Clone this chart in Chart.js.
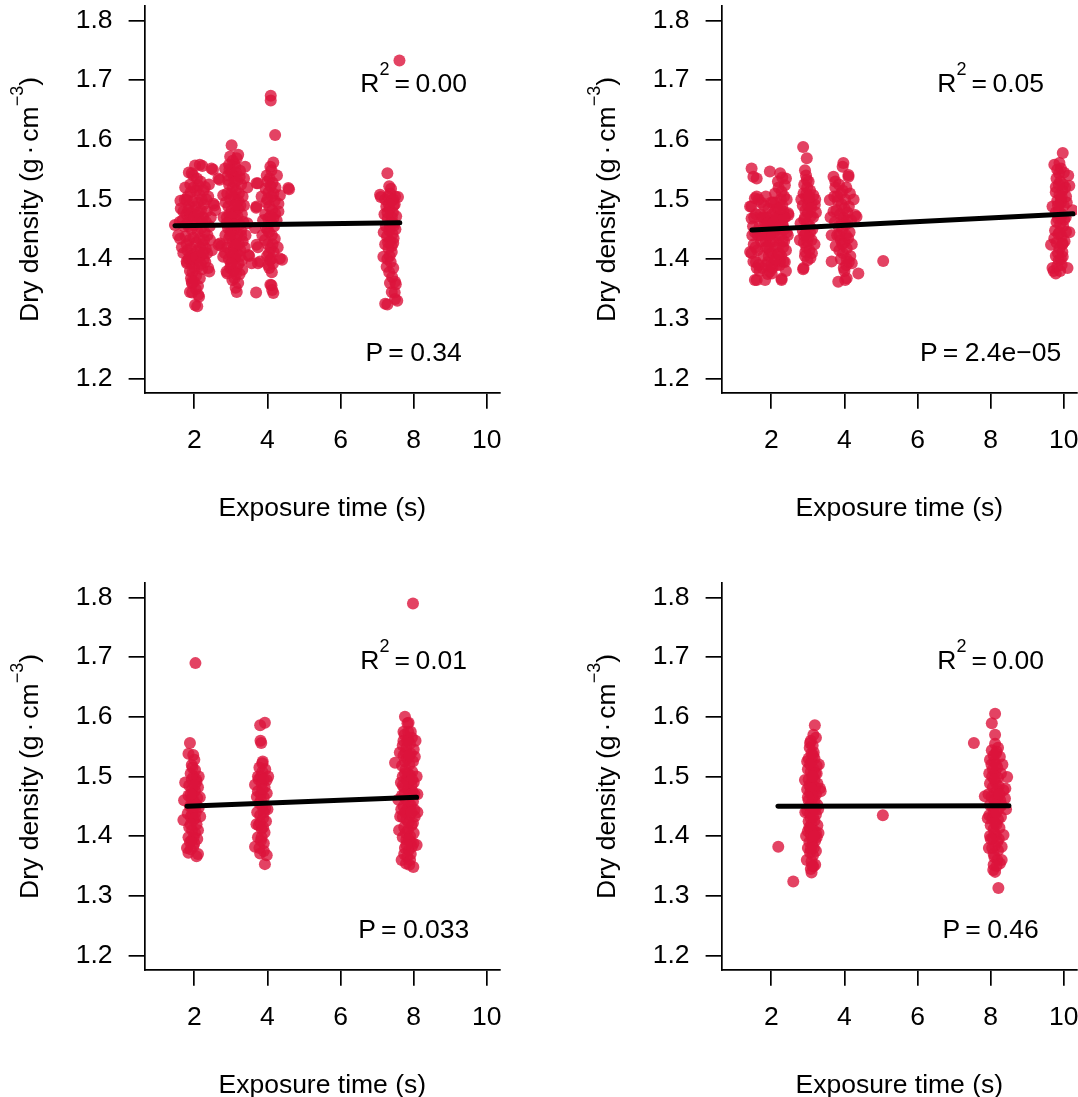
<!DOCTYPE html>
<html>
<head>
<meta charset="utf-8">
<title>Dry density vs exposure time</title>
<script src="https://cdn.jsdelivr.net/npm/chart.js@4.4.1/dist/chart.umd.min.js"></script>
<style>
  html, body { margin: 0; padding: 0; background: #fff; overflow: hidden; width: 1078px; height: 1097px; }
  .cell { position: absolute; width: 577px; height: 577px; }
  .cell canvas { display: block; }
</style>
</head>
<body>
<div class="cell" style="left:0;top:0"><canvas id="cTL" width="577" height="577"></canvas></div>
<div class="cell" style="left:577px;top:0"><canvas id="cTR" width="577" height="577"></canvas></div>
<div class="cell" style="left:0;top:577px"><canvas id="cBL" width="577" height="577"></canvas></div>
<div class="cell" style="left:577px;top:577px"><canvas id="cBR" width="577" height="577"></canvas></div>
<script>
// ---- axis ticks and titles ----
const xTicks = [2, 4, 6, 8, 10];
const yTicks = [1.2, 1.3, 1.4, 1.5, 1.6, 1.7, 1.8];
const xTitle = 'Exposure time (s)';

// ---- statistics printed in each panel ----
const r2Labels = ['0.00', '0.05', '0.01', '0.00'];
const pLabels = ['0.34', '2.4e\u221205', '0.033', '0.46'];

// ---- fitted regression lines: [x, y] at both ends ----
const fitTL = [[1.47, 1.456], [7.62, 1.461]];
const fitTR = [[1.47, 1.4486], [10.25, 1.476]];
const fitBL = [[1.80, 1.450], [8.08, 1.465]];
const fitBR = [[2.18, 1.450], [8.50, 1.451]];

// ---- measured dry density (g/cm3) against exposure time (s) ----
const densityTL = [
  [1.47,1.457],[1.56,1.440],[1.61,1.434],[1.62,1.498],[1.70,1.480],[1.79,1.499],[1.85,1.545],[1.93,1.544],[2.02,1.557],[2.15,1.558],
  [2.22,1.556],[2.47,1.552],[2.51,1.550],[2.66,1.535],[2.69,1.533],[2.11,1.524],[2.29,1.521],[2.52,1.493],[2.55,1.490],[2.57,1.482],
  [2.43,1.432],[2.74,1.422],[2.66,1.424],[2.38,1.385],[2.41,1.379],[1.80,1.393],[1.79,1.396],[1.93,1.362],[1.94,1.359],[1.88,1.345],
  [1.94,1.344],[2.11,1.340],[2.13,1.337],[2.08,1.321],[2.02,1.323],
  [1.82,1.505],[1.90,1.512],[1.98,1.520],[2.05,1.515],[2.14,1.508],[2.20,1.500],[2.26,1.492],[1.86,1.490],[1.95,1.497],[2.03,1.488],
  [2.10,1.495],[2.18,1.482],[1.78,1.475],[1.88,1.472],[1.96,1.468],[2.06,1.474],[2.15,1.465],[2.24,1.470],[2.32,1.462],[1.84,1.455],
  [1.92,1.450],[2.00,1.457],[2.09,1.446],[2.19,1.452],[2.28,1.445],[1.76,1.438],[1.86,1.432],[1.97,1.436],[2.05,1.428],[2.14,1.434],
  [2.23,1.425],[2.31,1.418],[1.81,1.415],[1.90,1.418],[1.99,1.410],[2.08,1.414],[2.17,1.405],[2.26,1.400],[1.84,1.400],[1.93,1.392],
  [2.02,1.398],[2.12,1.388],[2.21,1.383],[1.95,1.378],[2.05,1.372],[2.15,1.368],[2.00,1.385],[1.88,1.380],[2.10,1.355],[2.04,1.350],
  [2.30,1.395],[2.35,1.410],[2.36,1.440],[2.34,1.480],[2.38,1.505],[1.72,1.455],[1.66,1.420],[1.70,1.410],[1.68,1.465],[1.60,1.462],
  [1.75,1.520],[2.45,1.470],[2.42,1.455],[2.48,1.415],[2.40,1.525],
  [1.80,1.460],[1.89,1.525],[1.97,1.540],[2.07,1.535],[2.17,1.530],[2.25,1.515],[1.83,1.482],[1.91,1.478],[2.00,1.470],[2.12,1.478],
  [2.21,1.462],[1.79,1.425],[1.88,1.405],[1.97,1.400],[2.06,1.403],[2.16,1.420],[2.24,1.410],[1.91,1.368],[1.99,1.362],[2.18,1.392],
  [2.27,1.432],[1.74,1.500],[1.63,1.485],[2.33,1.500],
  [3.02,1.591],[2.98,1.572],[3.16,1.569],[3.39,1.555],[2.84,1.552],[3.10,1.560],[3.25,1.548],[2.79,1.507],[2.70,1.426],[2.79,1.404],
  [2.88,1.379],[2.90,1.376],[3.16,1.345],[3.13,1.352],[3.31,1.382],[3.57,1.393],[3.48,1.407],[3.50,1.405],[3.36,1.535],[3.45,1.520],
  [2.85,1.440],[2.80,1.470],[3.45,1.460],[3.40,1.440],
  [2.92,1.540],[3.00,1.545],[3.08,1.538],[3.18,1.532],[3.28,1.525],[2.95,1.525],[3.05,1.520],[3.14,1.515],[3.22,1.510],[3.32,1.505],
  [2.90,1.510],[2.98,1.500],[3.07,1.505],[3.16,1.495],[3.26,1.490],[2.93,1.488],[3.02,1.482],[3.11,1.478],[3.20,1.485],[3.30,1.475],
  [2.89,1.470],[2.97,1.465],[3.06,1.460],[3.15,1.466],[3.24,1.458],[3.34,1.462],[2.92,1.452],[3.00,1.446],[3.09,1.450],[3.18,1.442],
  [3.28,1.448],[2.95,1.435],[3.04,1.428],[3.13,1.433],[3.22,1.425],[3.32,1.430],[2.90,1.420],[2.99,1.412],[3.08,1.418],[3.17,1.410],
  [3.26,1.415],[2.94,1.400],[3.03,1.395],[3.12,1.402],[3.21,1.392],[3.30,1.398],[2.98,1.385],[3.07,1.380],[3.16,1.386],[3.24,1.375],
  [3.10,1.368],[3.04,1.365],[3.20,1.360],[2.86,1.495],[3.36,1.490],[3.38,1.420],[2.84,1.410],[3.12,1.555],[3.05,1.565],[3.20,1.575],
  [2.95,1.558],
  [2.96,1.550],[3.14,1.545],[3.24,1.538],[2.93,1.532],[3.10,1.528],[3.01,1.510],[3.20,1.498],[3.12,1.490],[2.96,1.475],[3.18,1.472],
  [3.03,1.470],[3.10,1.458],[2.98,1.440],[3.14,1.424],[3.06,1.408],[3.25,1.405],[3.00,1.392],[3.14,1.375],[3.28,1.440],[2.88,1.460],
  [4.21,1.608],[4.09,1.674],[4.09,1.666],[4.16,1.562],[4.11,1.549],[4.08,1.555],[3.74,1.527],[3.70,1.527],[4.59,1.517],[4.57,1.519],
  [4.34,1.507],[4.30,1.493],[3.70,1.488],[3.69,1.486],[3.84,1.505],[3.66,1.452],[3.70,1.424],[3.74,1.420],[3.80,1.396],[3.74,1.393],
  [4.40,1.399],[4.34,1.401],[3.69,1.344],[4.11,1.356],[4.16,1.343],[4.08,1.357],[4.13,1.348],
  [3.98,1.540],[4.06,1.535],[4.14,1.528],[4.22,1.520],[3.95,1.518],[4.03,1.512],[4.12,1.505],[4.20,1.498],[3.97,1.495],[4.05,1.488],
  [4.13,1.482],[4.21,1.476],[3.94,1.475],[4.02,1.468],[4.10,1.462],[4.18,1.455],[3.96,1.452],[4.04,1.445],[4.12,1.440],[4.20,1.434],
  [3.93,1.432],[4.01,1.425],[4.09,1.418],[4.17,1.412],[3.99,1.405],[4.07,1.398],[4.15,1.392],[4.05,1.385],[4.12,1.378],[4.25,1.465],
  [4.28,1.420],[3.88,1.465],[4.26,1.540],[4.30,1.480],[3.86,1.440],
  [4.00,1.530],[4.09,1.522],[4.16,1.510],[4.00,1.500],[4.08,1.472],[4.16,1.468],[4.00,1.450],[4.14,1.425],[4.04,1.410],[4.10,1.400],
  [4.02,1.390],
  [7.61,1.733],[7.28,1.544],[7.33,1.522],[7.08,1.508],[7.49,1.505],[7.57,1.504],[7.10,1.504],[7.38,1.518],[7.44,1.427],[7.17,1.404],
  [7.26,1.387],[7.49,1.362],[7.40,1.345],[7.49,1.333],[7.22,1.325],[7.28,1.324],[7.55,1.330],[7.48,1.344],[7.51,1.358],
  [7.22,1.500],[7.30,1.505],[7.40,1.498],[7.48,1.492],[7.25,1.488],[7.34,1.484],[7.43,1.478],[7.52,1.472],[7.20,1.475],[7.29,1.468],
  [7.38,1.462],[7.46,1.456],[7.24,1.455],[7.33,1.448],[7.42,1.442],[7.50,1.450],[7.27,1.438],[7.36,1.430],[7.45,1.435],[7.22,1.425],
  [7.31,1.418],[7.40,1.412],[7.28,1.400],[7.37,1.395],[7.44,1.385],[7.33,1.378],[7.41,1.370],[7.35,1.360],[7.45,1.490],[7.18,1.445],
  [7.36,1.510],[7.44,1.500],[7.32,1.492],[7.40,1.470],[7.28,1.478],[7.35,1.455],[7.44,1.460],[7.30,1.428],[7.40,1.422],[7.34,1.405]
];

const densityTR = [
  [1.46,1.552],[1.51,1.538],[1.60,1.535],[1.96,1.547],[2.24,1.544],[2.30,1.537],[2.37,1.524],[1.60,1.505],[1.55,1.502],[1.42,1.488],
  [1.46,1.488],[2.28,1.513],[1.46,1.468],[1.42,1.412],[1.46,1.410],[1.51,1.396],[1.60,1.385],[1.55,1.365],[1.60,1.365],[1.83,1.365],
  [1.96,1.379],[2.01,1.376],[2.28,1.367],[2.28,1.365],[2.33,1.396],[2.24,1.396],[2.47,1.474],[2.46,1.477],[2.40,1.535],[2.35,1.505],
  [2.45,1.440],[2.42,1.500],
  [1.50,1.455],[1.55,1.445],[1.58,1.475],[1.52,1.425],[1.62,1.415],[1.65,1.390],[1.68,1.455],[1.72,1.430],[1.75,1.470],[1.78,1.405],
  [1.80,1.490],[1.82,1.445],[1.85,1.420],[1.87,1.470],[1.90,1.395],[1.92,1.485],[1.95,1.455],[1.97,1.430],[2.00,1.410],[2.02,1.475],
  [2.05,1.495],[2.07,1.445],[2.10,1.420],[2.12,1.465],[2.15,1.390],[2.17,1.485],[2.20,1.450],[2.22,1.425],[2.25,1.470],[2.27,1.405],
  [2.30,1.490],[2.32,1.455],[2.35,1.430],[2.38,1.470],[2.40,1.415],[2.42,1.445],[1.88,1.440],[1.93,1.405],[2.03,1.385],[2.13,1.440],
  [2.18,1.408],[2.23,1.390],[2.33,1.480],[2.37,1.395],[2.08,1.460],[1.98,1.465],[1.83,1.460],[1.77,1.445],[1.70,1.475],[1.63,1.440],
  [1.57,1.420],[1.53,1.470],[1.48,1.440],[1.65,1.500],[1.72,1.495],[1.85,1.505],[2.10,1.510],[2.20,1.520],[2.30,1.460],[1.95,1.415],
  [2.05,1.430],[2.15,1.450],[2.25,1.440],[2.35,1.450],[1.90,1.375],[2.08,1.398],[2.40,1.380],[1.75,1.385],[1.58,1.395],[2.18,1.530],
  [2.26,1.500],[1.68,1.380],[1.86,1.390],
  [1.80,1.470],[1.90,1.460],[2.00,1.445],[2.10,1.480],[2.20,1.470],[2.30,1.430],[1.85,1.430],[1.95,1.440],[2.05,1.460],[2.15,1.470],
  [2.25,1.455],[2.35,1.470],[1.90,1.420],[2.00,1.390],[2.12,1.400],[2.22,1.410],[2.32,1.420],[2.00,1.495],[2.12,1.495],[2.25,1.485],
  [1.78,1.450],[1.70,1.440],
  [2.87,1.588],[2.97,1.569],[2.92,1.549],[2.97,1.533],[2.87,1.383],[3.15,1.507],[3.19,1.491],[2.78,1.432],[2.88,1.385],[3.20,1.500],
  [3.22,1.478],[2.80,1.460],[2.82,1.500],[3.18,1.425],
  [2.90,1.525],[2.98,1.520],[3.06,1.515],[2.88,1.510],[2.95,1.503],[3.03,1.498],[3.10,1.492],[2.86,1.490],[2.93,1.482],[3.00,1.477],
  [3.08,1.472],[2.90,1.466],[2.97,1.460],[3.05,1.455],[3.12,1.450],[2.86,1.448],[2.94,1.442],[3.02,1.437],[3.10,1.432],[2.89,1.428],
  [2.96,1.420],[3.04,1.415],[3.11,1.410],[2.92,1.405],[2.99,1.398],[3.07,1.402],[2.95,1.540],[3.02,1.530],[2.93,1.412],[3.14,1.470],
  [3.00,1.490],[2.92,1.470],[3.06,1.445],[2.98,1.430],[3.08,1.485],[2.96,1.510],[3.04,1.505],[2.90,1.440],
  [3.97,1.561],[3.95,1.555],[4.11,1.541],[4.11,1.538],[3.70,1.538],[3.75,1.530],[3.60,1.499],[3.65,1.440],[3.83,1.362],[4.02,1.365],
  [4.06,1.368],[4.38,1.376],[4.20,1.393],[3.65,1.396],[4.29,1.474],[4.33,1.471],[3.98,1.385],[4.05,1.390],[4.25,1.500],[3.62,1.470],
  [3.75,1.520],[3.85,1.525],[3.95,1.515],[4.05,1.520],[3.72,1.505],[3.82,1.498],[3.92,1.492],[4.02,1.500],[4.12,1.488],[3.78,1.482],
  [3.88,1.475],[3.98,1.470],[4.08,1.478],[4.18,1.465],[3.74,1.462],[3.84,1.455],[3.94,1.450],[4.04,1.458],[4.14,1.445],[3.80,1.440],
  [3.90,1.432],[4.00,1.428],[4.10,1.435],[4.20,1.425],[3.76,1.422],[3.86,1.415],[3.96,1.410],[4.06,1.418],[4.16,1.405],[3.90,1.400],
  [4.00,1.380],[4.12,1.395],[3.80,1.505],[4.15,1.510],[3.70,1.480],
  [3.90,1.510],[4.00,1.485],[3.92,1.465],[4.08,1.465],[3.86,1.440],[4.04,1.440],[3.94,1.425],[4.06,1.400],
  [5.06,1.397],
  [9.97,1.578],[9.88,1.561],[9.74,1.558],[9.87,1.544],[10.15,1.523],[9.78,1.521],[10.06,1.505],[9.69,1.488],[10.24,1.482],[10.01,1.466],
  [10.06,1.446],[9.65,1.424],[9.97,1.426],[9.97,1.404],[9.69,1.385],[10.10,1.385],[9.78,1.376],[9.72,1.380],[10.12,1.540],[10.15,1.445],
  [9.82,1.550],[9.92,1.552],[10.00,1.545],[9.80,1.535],[9.90,1.530],[9.98,1.525],[9.78,1.512],[9.88,1.508],[9.96,1.515],[10.04,1.520],
  [9.82,1.498],[9.92,1.495],[10.00,1.490],[9.78,1.478],[9.86,1.482],[9.95,1.475],[10.05,1.470],[9.80,1.462],[9.90,1.458],[9.98,1.455],
  [9.76,1.448],[9.85,1.442],[9.94,1.438],[10.02,1.430],[9.80,1.428],[9.88,1.418],[9.96,1.412],[9.78,1.405],[9.86,1.398],[9.94,1.390],
  [9.82,1.388],[9.90,1.380],[9.84,1.468],[9.92,1.500],[10.08,1.495],[9.74,1.435],
  [9.86,1.525],[9.94,1.505],[9.84,1.490],[9.92,1.470],[9.88,1.445],[9.96,1.425],[9.84,1.410],[9.92,1.400]
];

const densityBL = [
  [2.03,1.690],[1.88,1.556],[1.84,1.538],[1.97,1.536],[2.02,1.511],[1.93,1.519],[1.75,1.490],[2.06,1.491],[1.70,1.427],[2.16,1.433],
  [1.84,1.372],[2.06,1.366],[1.97,1.382],[2.10,1.370],[1.80,1.380],[2.12,1.500],[1.72,1.460],[2.15,1.465],
  [1.90,1.505],[1.98,1.500],[2.05,1.495],[1.86,1.485],[1.94,1.480],[2.02,1.476],[2.10,1.482],[1.84,1.468],[1.92,1.462],[2.00,1.458],
  [2.08,1.464],[1.88,1.450],[1.96,1.445],[2.04,1.440],[2.12,1.448],[1.82,1.438],[1.90,1.432],[1.98,1.427],[2.06,1.420],[1.86,1.415],
  [1.94,1.410],[2.02,1.405],[2.10,1.410],[1.84,1.398],[1.92,1.392],[2.00,1.388],[2.08,1.395],[1.90,1.378],[1.96,1.470],[2.00,1.528],
  [1.93,1.495],[2.01,1.485],[1.90,1.470],[1.98,1.452],[2.06,1.452],[1.94,1.438],[2.02,1.430],[1.90,1.420],[1.98,1.398],[1.88,1.390],
  [1.95,1.515],
  [3.80,1.586],[3.93,1.590],[3.81,1.560],[3.83,1.556],[3.87,1.525],[3.98,1.494],[3.66,1.486],[3.71,1.466],[3.66,1.382],[3.80,1.371],
  [3.93,1.353],[3.98,1.368],[3.74,1.500],[4.02,1.500],
  [3.78,1.515],[3.86,1.508],[3.94,1.512],[3.76,1.495],[3.84,1.488],[3.92,1.482],[3.74,1.475],[3.82,1.470],[3.90,1.465],[3.98,1.472],
  [3.78,1.455],[3.86,1.450],[3.94,1.446],[3.72,1.440],[3.80,1.435],[3.88,1.430],[3.96,1.425],[3.76,1.418],[3.84,1.412],[3.92,1.406],
  [3.74,1.398],[3.82,1.392],[3.90,1.388],[3.78,1.380],[3.86,1.522],[3.90,1.375],[3.70,1.420],[4.00,1.445],
  [3.82,1.500],[3.90,1.495],[3.86,1.478],[3.82,1.460],[3.90,1.440],[3.80,1.422],[3.88,1.415],[3.84,1.398],
  [7.98,1.790],[7.76,1.600],[7.83,1.589],[7.72,1.575],[7.85,1.561],[7.49,1.523],[8.03,1.533],[8.08,1.500],[7.58,1.461],[7.63,1.433],
  [8.03,1.433],[7.99,1.388],[8.08,1.385],[7.67,1.360],[7.79,1.354],[7.99,1.348],[8.10,1.440],[7.60,1.410],[8.05,1.560],[7.62,1.540],
  [8.10,1.470],[7.65,1.490],
  [7.75,1.570],[7.85,1.575],[7.95,1.565],[7.70,1.552],[7.80,1.548],[7.90,1.555],[8.00,1.545],[7.72,1.535],[7.82,1.530],[7.92,1.538],
  [7.98,1.525],[7.68,1.518],[7.78,1.512],[7.88,1.520],[7.96,1.508],[7.70,1.500],[7.80,1.495],[7.90,1.502],[8.00,1.490],[7.74,1.482],
  [7.84,1.478],[7.94,1.485],[7.68,1.468],[7.78,1.462],[7.88,1.470],[7.98,1.458],[7.72,1.450],[7.82,1.446],[7.92,1.452],[8.02,1.444],
  [7.70,1.432],[7.80,1.428],[7.90,1.435],[7.98,1.422],[7.74,1.415],[7.84,1.410],[7.94,1.418],[7.70,1.398],[7.80,1.394],[7.90,1.400],
  [8.00,1.405],[7.76,1.380],[7.86,1.376],[7.95,1.382],[7.82,1.365],[7.90,1.360],[7.74,1.370],[7.88,1.352],[7.86,1.590],[7.76,1.525],
  [7.86,1.455],[7.76,1.440],[7.92,1.390],[7.66,1.445],[7.96,1.475],[7.84,1.505],[7.72,1.560],
  [7.82,1.560],[7.92,1.575],[7.78,1.540],[7.88,1.535],[7.76,1.505],[7.86,1.490],[7.92,1.470],[7.76,1.472],[7.94,1.440],[7.86,1.422],
  [7.78,1.405],[7.86,1.395],[7.80,1.385],[7.92,1.370],[7.96,1.495],[8.02,1.470],[7.70,1.485]
];

const densityBR = [
  [3.19,1.586],[3.15,1.570],[3.06,1.556],[3.22,1.565],[3.10,1.539],[3.33,1.480],[3.35,1.475],[2.92,1.494],[3.24,1.505],[3.10,1.339],
  [3.15,1.349],[2.97,1.360],[3.29,1.405],[3.08,1.345],[3.20,1.352],[2.95,1.400],[2.93,1.440],[3.28,1.445],[3.30,1.520],[2.98,1.525],
  [3.05,1.548],[3.13,1.552],[3.02,1.530],[3.10,1.525],[3.18,1.530],[3.00,1.512],[3.08,1.508],[3.16,1.512],[3.24,1.518],[3.02,1.495],
  [3.10,1.490],[3.18,1.495],[3.26,1.488],[2.98,1.478],[3.06,1.472],[3.14,1.478],[3.22,1.470],[3.02,1.460],[3.10,1.455],[3.18,1.460],
  [3.26,1.452],[2.98,1.442],[3.06,1.438],[3.14,1.445],[3.22,1.436],[3.02,1.425],[3.10,1.420],[3.18,1.426],[3.26,1.418],[3.00,1.408],
  [3.08,1.402],[3.16,1.410],[3.24,1.398],[3.04,1.390],[3.12,1.385],[3.20,1.392],[3.06,1.372],[3.14,1.368],[3.22,1.375],[3.10,1.358],
  [3.00,1.380],[3.16,1.540],[3.12,1.500],[3.04,1.485],[3.20,1.482],[3.08,1.430],[3.12,1.465],[3.04,1.415],[3.22,1.405],[3.12,1.395],
  [3.08,1.560],[3.14,1.535],[3.06,1.520],[3.20,1.505],[3.14,1.500],[3.08,1.480],[3.16,1.466],[3.04,1.450],[3.14,1.432],[3.06,1.412],
  [3.18,1.400],[3.08,1.378],[3.16,1.380],[3.12,1.350],[3.20,1.445],[3.00,1.465],
  [2.19,1.382],[2.60,1.324],[5.05,1.435],
  [8.12,1.605],[8.03,1.589],[8.12,1.570],[7.54,1.556],[8.03,1.544],[8.16,1.542],[7.98,1.528],[8.25,1.533],[8.45,1.499],[8.35,1.477],
  [7.84,1.467],[8.39,1.463],[8.42,1.445],[8.35,1.402],[8.30,1.382],[8.25,1.354],[8.12,1.340],[8.07,1.343],[8.21,1.313],[7.95,1.380],
  [7.92,1.430],[8.32,1.520],[8.40,1.480],[8.30,1.360],
  [8.02,1.520],[8.10,1.525],[8.18,1.515],[7.96,1.505],[8.04,1.500],[8.12,1.506],[8.20,1.498],[8.28,1.505],[7.98,1.488],[8.06,1.482],
  [8.14,1.490],[8.22,1.484],[7.94,1.470],[8.02,1.466],[8.10,1.472],[8.18,1.465],[8.26,1.460],[7.98,1.452],[8.06,1.448],[8.14,1.455],
  [8.22,1.446],[8.30,1.452],[7.96,1.435],[8.04,1.430],[8.12,1.436],[8.20,1.428],[8.28,1.432],[8.00,1.418],[8.08,1.412],[8.16,1.420],
  [8.24,1.414],[7.98,1.400],[8.06,1.396],[8.14,1.402],[8.22,1.395],[8.04,1.380],[8.12,1.384],[8.20,1.376],[8.10,1.365],[8.18,1.360],
  [8.08,1.352],[8.12,1.555],[8.20,1.548],[8.08,1.535],
  [8.06,1.512],[8.14,1.520],[8.10,1.495],[8.18,1.478],[8.10,1.460],[8.08,1.440],[8.16,1.440],[8.12,1.422],[8.10,1.405],[8.18,1.390],
  [8.08,1.370],[8.16,1.350],[8.14,1.538],[8.24,1.470],[8.00,1.395]
];

// ---- drawing ----
const FONT_FAMILY = '"Liberation Sans", Arial, Helvetica, sans-serif';
const FS = 26.5;     // main text size
const FS_SUP = 18;   // superscript size
const POINT_COLOR = 'rgba(220, 20, 60, 0.8)';

// Draw a row of text pieces (with optional raised superscripts) centred on cx.
function drawRuns(ctx, runs, cx, baseline) {
  const widths = runs.map(r => {
    if (r.gap !== undefined) return r.gap;
    ctx.font = r.size + 'px ' + FONT_FAMILY;
    return ctx.measureText(r.text).width;
  });
  const total = widths.reduce((a, b) => a + b, 0);
  let x = cx - total / 2;
  ctx.textAlign = 'left';
  ctx.textBaseline = 'alphabetic';
  runs.forEach((r, i) => {
    if (r.gap === undefined) {
      ctx.font = r.size + 'px ' + FONT_FAMILY;
      ctx.fillText(r.text, x, baseline - (r.rise || 0));
    }
    x += widths[i];
  });
}

const panelText = {
  id: 'panelText',
  afterDraw(chart, args, opts) {
    const { ctx, chartArea } = chart;
    const xs = chart.scales.x, ys = chart.scales.y;
    ctx.save();
    ctx.fillStyle = '#000';

    // x-axis title
    drawRuns(ctx, [{ text: xTitle, size: FS }], (chartArea.left + chartArea.right) / 2, chartArea.bottom + 123);

    // y-axis title: Dry density (g · cm^-3), rotated
    ctx.save();
    ctx.translate(chartArea.left - 107, (chartArea.top + chartArea.bottom) / 2);
    ctx.rotate(-Math.PI / 2);
    drawRuns(ctx, [
      { text: 'Dry density (g', size: FS },
      { gap: 4 },
      { text: '\u00B7', size: FS },
      { gap: 4 },
      { text: 'cm', size: FS },
      { text: '\u22123', size: FS_SUP, rise: 15 },
      { text: ')', size: FS }
    ], 0, 0);
    ctx.restore();

    // R^2 and P annotations, anchored in data coordinates
    drawRuns(ctx, [
      { text: 'R', size: FS },
      { text: '2', size: FS_SUP, rise: 17.5 },
      { gap: 5 },
      { text: '=', size: FS },
      { gap: 5.5 },
      { text: opts.r2, size: FS }
    ], xs.getPixelForValue(8), ys.getPixelForValue(1.7) + 12);

    drawRuns(ctx, [
      { text: 'P', size: FS },
      { gap: 5 },
      { text: '=', size: FS },
      { gap: 6.5 },
      { text: opts.p, size: FS }
    ], xs.getPixelForValue(8), ys.getPixelForValue(1.25) + 12);

    ctx.restore();
  }
};

function makePanel(canvasId, points, fit, r2, p) {
  const tickFont = { family: FONT_FAMILY, size: FS };
  return new Chart(document.getElementById(canvasId), {
    type: 'scatter',
    data: {
      datasets: [
        {
          // regression line, drawn above the points
          data: fit.map(d => ({ x: d[0], y: d[1] })),
          showLine: true,
          borderColor: '#000',
          borderWidth: 5,
          borderCapStyle: 'round',
          pointRadius: 0,
          pointHoverRadius: 0,
          fill: false
        },
        {
          data: points.map(d => ({ x: d[0], y: d[1] })),
          backgroundColor: POINT_COLOR,
          borderWidth: 0,
          pointRadius: 6,
          pointHoverRadius: 6
        }
      ]
    },
    options: {
      responsive: false,
      animation: false,
      devicePixelRatio: 1,
      events: [],
      layout: { padding: { left: 0, top: 6.2, right: 77, bottom: 0 } },
      plugins: {
        legend: { display: false },
        tooltip: { enabled: false },
        panelText: { r2: r2, p: p }
      },
      scales: {
        x: {
          type: 'linear',
          min: 0.64,
          max: 10.36,
          afterBuildTicks: s => { s.ticks = xTicks.map(v => ({ value: v })); },
          afterFit: s => { s.height = 184.3; s.paddingLeft = 0; s.paddingRight = 0; },
          grid: { drawOnChartArea: false, drawTicks: true, tickLength: 16, color: '#000', lineWidth: 1.7 },
          border: { display: true, color: '#000', width: 1.7 },
          ticks: { color: '#000', font: tickFont, padding: 16.5, maxRotation: 0, autoSkip: false,
                   callback: v => String(v) }
        },
        y: {
          type: 'linear',
          min: 1.176,
          max: 1.824,
          afterBuildTicks: s => { s.ticks = yTicks.map(v => ({ value: v })); },
          afterFit: s => { s.width = 144.6; s.paddingTop = 0; s.paddingBottom = 0; },
          grid: { drawOnChartArea: false, drawTicks: true, tickLength: 16, color: '#000', lineWidth: 1.7 },
          border: { display: true, color: '#000', width: 1.7 },
          ticks: { color: '#000', font: tickFont, padding: 16, autoSkip: false,
                   callback: v => Number(v).toFixed(1) }
        }
      }
    },
    plugins: [panelText]
  });
}

makePanel('cTL', densityTL, fitTL, r2Labels[0], pLabels[0]);
makePanel('cTR', densityTR, fitTR, r2Labels[1], pLabels[1]);
makePanel('cBL', densityBL, fitBL, r2Labels[2], pLabels[2]);
makePanel('cBR', densityBR, fitBR, r2Labels[3], pLabels[3]);
</script>
</body>
</html>
